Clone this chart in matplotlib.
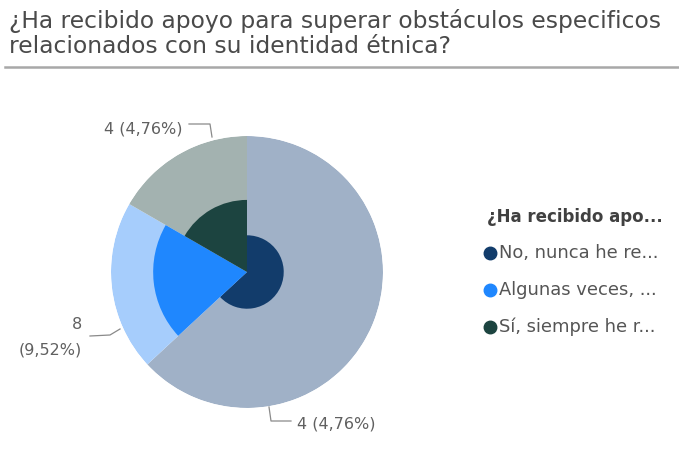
import numpy as np
import matplotlib.pyplot as plt

# Data
categories = ["No, nunca he re...", "Algunas veces, ...", "Sí, siempre he r..."]
outer_share = [53, 17, 14]          # angular share of each slice
inner_radius = [0.27, 0.69, 0.53]   # relative radius of the inner dark sector
label_values = [4, 8, 4]
label_total = 84
outer_colors = ["#A0B1C7", "#A6CDFC", "#A3B2B0"]
inner_colors = ["#123C6B", "#1F87FE", "#1C4440"]

W, H = 679, 473
fig = plt.figure(figsize=(W / 100, H / 100), dpi=100)

def fx(x):
    return x / W

def fy(y):
    return 1 - y / H

# Title and rule
fig.text(fx(9), fy(28), "¿Ha recibido apoyo para superar obstáculos especificos",
         fontsize=16.8, color="#4A4A4A", va="baseline", ha="left")
fig.text(fx(9), fy(53), "relacionados con su identidad étnica?",
         fontsize=16.8, color="#4A4A4A", va="baseline", ha="left")
fig.add_artist(plt.Line2D([fx(5), fx(679)], [fy(67), fy(67)], color="#A8A8A8", lw=1.8))

# Pie drawn as polar bars
cx, cy, R = 247, 272, 136
ax = fig.add_axes([fx(cx - R), fy(cy + R), 2 * R / W, 2 * R / H], projection="polar")
ax.set_theta_zero_location("N")
ax.set_theta_direction(-1)
frac = np.array(outer_share) / sum(outer_share)
widths = frac * 2 * np.pi
starts = np.concatenate([[0], np.cumsum(widths)[:-1]])
ax.bar(starts, 1.0, width=widths, align="edge", color=outer_colors, edgecolor="none")
ax.bar(starts, inner_radius, width=widths, align="edge", color=inner_colors, edgecolor="none")
ax.set_ylim(0, 1)
ax.set_axis_off()

# Data labels
lbl = [f"{v} ({v / label_total * 100:.2f}%)".replace(".", ",") for v in label_values]
lc = "#8A8A8A"
tc = "#606060"
fs = 11.5
# big slice (bottom)
fig.text(fx(297), fy(428), lbl[0], fontsize=fs, color=tc, ha="left", va="baseline")
fig.add_artist(plt.Line2D([fx(269), fx(271), fx(291)], [fy(407), fy(421), fy(421)], color=lc, lw=0.9))
# light blue slice (left)
fig.text(fx(82), fy(329), str(label_values[1]), fontsize=fs, color=tc, ha="right", va="baseline")
fig.text(fx(82), fy(354), "(" + lbl[1].split("(")[1], fontsize=fs, color=tc, ha="right", va="baseline")
fig.add_artist(plt.Line2D([fx(90), fx(110), fx(120)], [fy(336), fy(335), fy(329)], color=lc, lw=0.9))
# gray slice (top)
fig.text(fx(182), fy(133), lbl[2], fontsize=fs, color=tc, ha="right", va="baseline")
fig.add_artist(plt.Line2D([fx(189), fx(210), fx(212)], [fy(124), fy(124), fy(137)], color=lc, lw=0.9))

# Legend
fig.text(fx(487), fy(222), "¿Ha recibido apo...", fontsize=12, color="#404040",
         fontweight="bold", ha="left", va="baseline")
for i, (name, col) in enumerate(zip(categories, inner_colors)):
    y = 253 + i * 37
    fig.add_artist(plt.Line2D([fx(490)], [fy(y)], marker="o", markersize=9, color=col, lw=0))
    fig.text(fx(499), fy(y + 5), name, fontsize=12.9, color="#555555", ha="left", va="baseline")

fig.savefig("out.png", dpi=100, facecolor="white")
